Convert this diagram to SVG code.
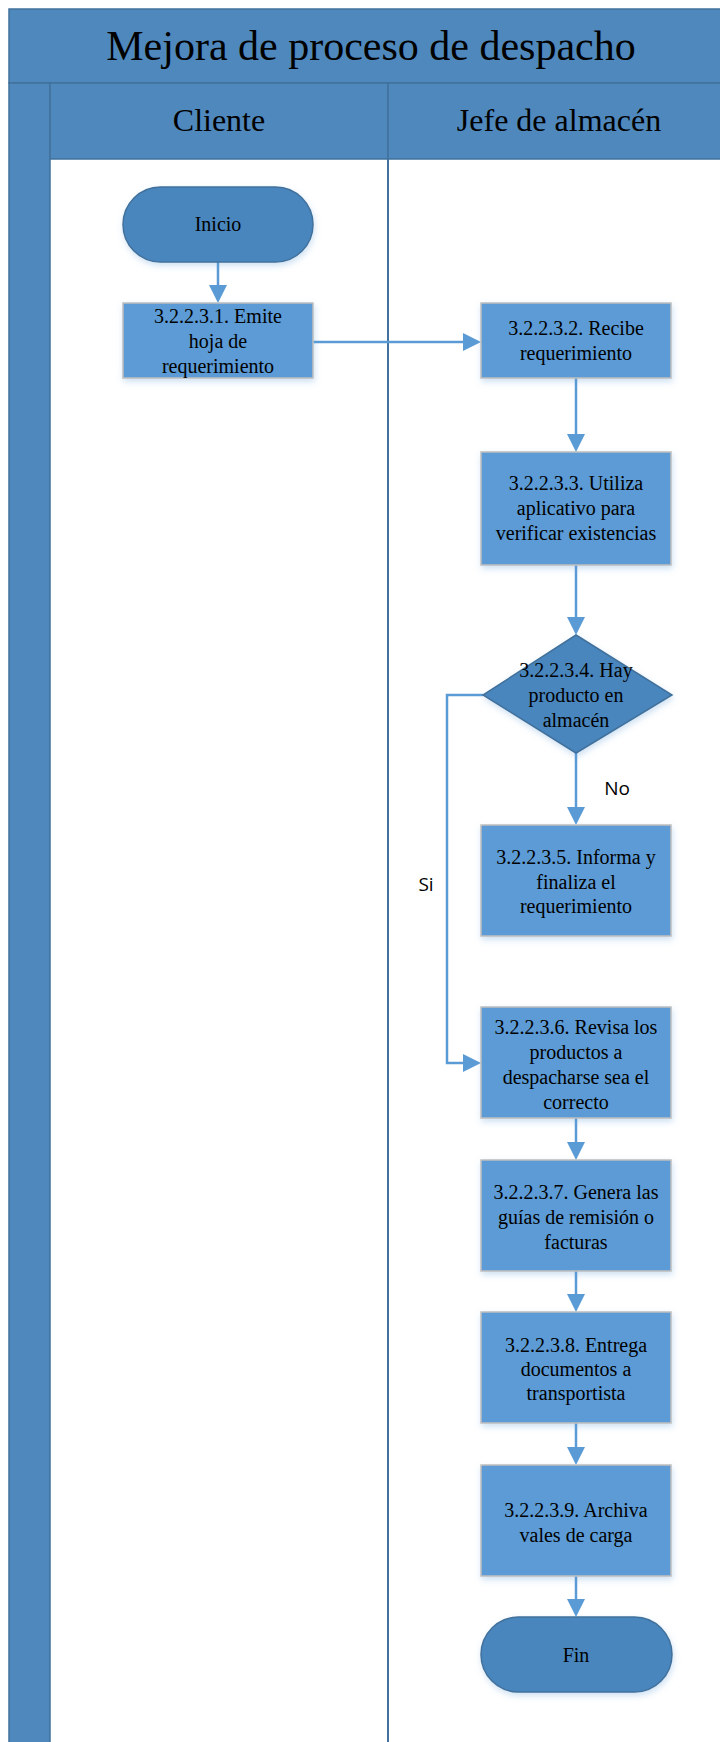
<svg xmlns="http://www.w3.org/2000/svg" width="720" height="1742" viewBox="0 0 720 1742">
<style>
.band{fill:#4F88BC;stroke:#41719C;stroke-width:1.5}
.box{fill:#5B9BD5;stroke:#BFBFBF;stroke-width:1.5;filter:url(#sh)}
.term{fill:#4A86BD;stroke:#41719C;stroke-width:1.5;filter:url(#sh)}
.t{font-family:"Liberation Serif","Times New Roman",serif;font-size:20px;fill:#000;text-anchor:middle}
.h{font-family:"Liberation Serif","Times New Roman",serif;font-size:32px;fill:#000;text-anchor:middle}
.lbl{font-family:"Open Sans","Liberation Sans",sans-serif;font-size:19px;fill:#000;text-anchor:middle}
.c{fill:none;stroke:#5B9BD5;stroke-width:2.5;marker-end:url(#ah)}
</style>
<defs>
<filter id="sh" x="-20%" y="-20%" width="140%" height="150%">
<feDropShadow dx="1" dy="3" stdDeviation="3" flood-color="#5B9BD5" flood-opacity="0.3"/>
</filter>
<marker id="ah" markerUnits="userSpaceOnUse" markerWidth="18" markerHeight="18" refX="14" refY="9" orient="auto">
<path d="M0,0 L18,9 L0,18 z" fill="#5B9BD5"/>
</marker>
</defs>
<rect width="720" height="1742" fill="#fff"/>
<g id="pool">
<rect class="band" x="9" y="9" width="730" height="74"/>
<text x="371" y="60" font-family="Liberation Serif, Times New Roman, serif" font-size="42" text-anchor="middle" fill="#000">Mejora de proceso de despacho</text>
<rect class="band" x="9" y="83" width="41" height="1670"/>
<rect class="band" x="50" y="83" width="338" height="76"/>
<rect class="band" x="388" y="83" width="350" height="76"/>
<text class="h" x="219" y="131">Cliente</text>
<text class="h" x="559" y="131">Jefe de almacén</text>
<line x1="388" y1="159" x2="388" y2="1742" stroke="#41719C" stroke-width="2"/>
</g>
<g id="connectors">
<path class="c" d="M218,262 V299"/>
<path class="c" d="M313,342 H477"/>
<path class="c" d="M576,378 V448"/>
<path class="c" d="M576,565 V631"/>
<path class="c" d="M576,753 V821"/>
<path class="c" d="M483,695 H447 V1063 H477"/>
<path class="c" d="M576,1118 V1156"/>
<path class="c" d="M576,1271 V1308"/>
<path class="c" d="M576,1423 V1461"/>
<path class="c" d="M576,1576 V1613"/>
<text class="lbl" x="617" y="795">No</text>
<text class="lbl" x="426" y="891">Si</text>
</g>
<g id="inicio">
<rect class="term" x="123" y="187" width="190" height="75" rx="37.5"/>
<text class="t" x="218" y="231">Inicio</text>
</g>
<g id="n1">
<rect class="box" x="123" y="303" width="190" height="75"/>
<text class="t" x="218" y="323">3.2.2.3.1. Emite</text>
<text class="t" x="218" y="348">hoja de</text>
<text class="t" x="218" y="373">requerimiento</text>
</g>
<g id="n2">
<rect class="box" x="481" y="303" width="190" height="75"/>
<text class="t" x="576" y="335">3.2.2.3.2. Recibe</text>
<text class="t" x="576" y="360">requerimiento</text>
</g>
<g id="n3">
<rect class="box" x="481" y="452" width="190" height="113"/>
<text class="t" x="576" y="490">3.2.2.3.3. Utiliza</text>
<text class="t" x="576" y="515">aplicativo para</text>
<text class="t" x="576" y="540">verificar existencias</text>
</g>
<g id="n4">
<polygon class="term" points="576,635 672,695 576,753 483,695"/>
<text class="t" x="576" y="677">3.2.2.3.4. Hay</text>
<text class="t" x="576" y="702">producto en</text>
<text class="t" x="576" y="727">almacén</text>
</g>
<g id="n5">
<rect class="box" x="481" y="825" width="190" height="111"/>
<text class="t" x="576" y="864">3.2.2.3.5. Informa y</text>
<text class="t" x="576" y="889">finaliza el</text>
<text class="t" x="576" y="913">requerimiento</text>
</g>
<g id="n6">
<rect class="box" x="481" y="1007" width="190" height="111"/>
<text class="t" x="576" y="1034">3.2.2.3.6. Revisa los</text>
<text class="t" x="576" y="1059">productos a</text>
<text class="t" x="576" y="1084">despacharse sea el</text>
<text class="t" x="576" y="1109">correcto</text>
</g>
<g id="n7">
<rect class="box" x="481" y="1160" width="190" height="111"/>
<text class="t" x="576" y="1199">3.2.2.3.7. Genera las</text>
<text class="t" x="576" y="1224">guías de remisión o</text>
<text class="t" x="576" y="1249">facturas</text>
</g>
<g id="n8">
<rect class="box" x="481" y="1312" width="190" height="111"/>
<text class="t" x="576" y="1352">3.2.2.3.8. Entrega</text>
<text class="t" x="576" y="1376">documentos a</text>
<text class="t" x="576" y="1400">transportista</text>
</g>
<g id="n9">
<rect class="box" x="481" y="1465" width="190" height="111"/>
<text class="t" x="576" y="1517">3.2.2.3.9. Archiva</text>
<text class="t" x="576" y="1542">vales de carga</text>
</g>
<g id="fin">
<rect class="term" x="481" y="1617" width="191" height="75" rx="37.5"/>
<text class="t" x="576" y="1662">Fin</text>
</g>
</svg>
